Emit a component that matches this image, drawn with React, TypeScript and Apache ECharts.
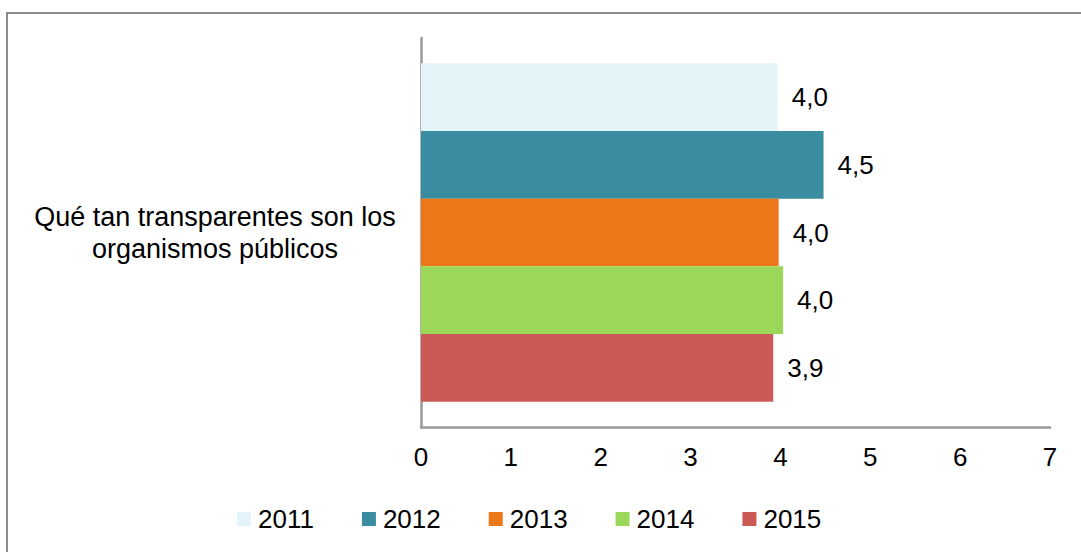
import React, { useEffect, useRef } from "react";
import * as echarts from "echarts";

const categories = ["Qué tan transparentes son los\norganismos públicos"];
const years = ["2011", "2012", "2013", "2014", "2015"];
const values = [3.97, 4.48, 3.98, 4.03, 3.92];
const colors = ["#E2F4F8", "#3A8CA0", "#EC7718", "#9BD85A", "#CB5A57"];
const xTicks = [0, 7, 1];

const FONT = "'Liberation Sans', Arial, sans-serif";

export default function App() {
  const ref = useRef<HTMLDivElement>(null);
  useEffect(() => {
    document.body.style.margin = "0";
    const chart = echarts.init(ref.current!, null, { renderer: "svg" });
    chart.setOption({
      animation: false,
      backgroundColor: "#ffffff",
      textStyle: { fontFamily: FONT },
      graphic: [
        {
          type: "rect",
          shape: { x: 7, y: 13, width: 1200, height: 700 },
          style: { fill: "none", stroke: "#8c8c8c", lineWidth: 2 },
          silent: true,
        },
      ],
      legend: {
        left: 237,
        top: 506,
        padding: 0,
        itemWidth: 14,
        itemHeight: 14,
        itemGap: 48,
        icon: "rect",
        textStyle: { fontSize: 26, color: "#000", fontFamily: FONT, padding: [0, 0, 0, 2] },
        data: years,
      },
      grid: { left: 421, right: 31, top: 38, bottom: 125, containLabel: false },
      xAxis: {
        type: "value",
        min: xTicks[0],
        max: xTicks[1],
        interval: xTicks[2],
        axisLine: { show: true, lineStyle: { color: "#999", width: 2.5 } },
        axisTick: { show: false },
        splitLine: { show: false },
        axisLabel: { fontSize: 26, color: "#000", margin: 17, fontFamily: FONT },
      },
      yAxis: {
        type: "category",
        data: categories,
        inverse: true,
        axisLine: { show: true, lineStyle: { color: "#999", width: 2.5 } },
        axisTick: { show: false },
        axisLabel: {
          fontSize: 27,
          color: "#000",
          align: "center",
          margin: 206,
          lineHeight: 32,
          fontFamily: FONT,
        },
      },
      series: years.map((y, i) => ({
        name: y,
        type: "bar",
        data: [values[i]],
        barCategoryGap: "13%",
        barGap: "0%",
        itemStyle: { color: colors[i] },
        label: {
          show: true,
          position: "right",
          distance: 14,
          fontSize: 26,
          color: "#000",
          fontFamily: FONT,
          formatter: (p: any) => Number(p.value).toFixed(1).replace(".", ","),
        },
      })),
    });
    return () => chart.dispose();
  }, []);
  return <div ref={ref} style={{ width: 1081, height: 552 }} />;
}
